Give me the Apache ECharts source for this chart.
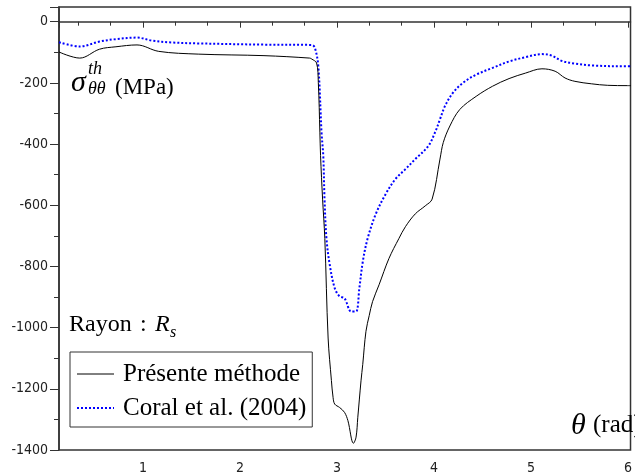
<!DOCTYPE html>
<html>
	<head>
		<meta charset="utf-8">
		<title></title>
		<style>
			html, body { margin: 0; padding: 0; background: #fff; }
			#main { width: 635px; height: 475px; }
		</style>
	</head>
	<body>
		<div id="main"></div>
		<script src="https://cdn.jsdelivr.net/npm/echarts@6/dist/echarts.min.js"></script>
		<script type="text/javascript">
			// theta (rad), sigma (MPa)
			var presenteMethode = [
				[0.135,-99],[0.349,-119],[0.552,-90],[0.722,-82],[0.939,-76],[1.163,-97],[1.570,-106],
				[2.248,-111],[2.719,-119],[2.740,-122],[2.790,-135],[2.808,-199],[2.824,-361],[2.831,-438],
				[2.852,-580],[2.875,-709],[2.909,-1034],[2.943,-1173],[2.960,-1228],[2.977,-1250],[3.027,-1261],
				[3.078,-1277],[3.113,-1304],[3.170,-1378],[3.197,-1358],[3.215,-1293],[3.248,-1174],[3.266,-1120],
				[3.299,-1012],[3.333,-960],[3.367,-915],[3.434,-860],[3.536,-774],[3.638,-709],[3.706,-670],
				[3.808,-628],[3.910,-602],[3.981,-580],[4.062,-449],[4.096,-395],[4.164,-341],[4.266,-287],
				[4.435,-244],[4.604,-211],[4.774,-186],[4.944,-168],[5.113,-154],[5.249,-162],[5.351,-184],
				[5.453,-195],[5.622,-203],[5.791,-208],[5.994,-209],[6.03,-209]
			];
			var coral2004 = [
				[0.135,-67],[0.349,-81],[0.552,-65],[0.722,-57],[0.939,-52],[1.095,-62],[1.298,-68],[1.570,-71],
				[2.248,-75],[2.740,-76],[2.773,-86],[2.808,-146],[2.841,-362],[2.859,-438],[2.872,-580],
				[2.892,-709],[2.926,-795],[2.977,-871],[3.027,-898],[3.078,-904],[3.147,-947],[3.197,-947],
				[3.231,-871],[3.266,-785],[3.316,-709],[3.401,-628],[3.503,-563],[3.604,-514],[3.706,-482],
				[3.808,-449],[3.940,-407],[4.011,-362],[4.062,-319],[4.113,-276],[4.197,-232],[4.299,-200],
				[4.435,-173],[4.604,-151],[4.774,-130],[4.944,-116],[5.113,-106],[5.215,-111],[5.316,-128],
				[5.453,-137],[5.622,-143],[5.994,-146],[6.03,-146]
			];
			var seriesNames = ['Présente méthode', 'Coral et al. (2004)'];

			var serif = "'Liberation Serif', 'DejaVu Serif', serif";
			var tickFont = "'DejaVu Sans Condensed', 'DejaVu Sans', sans-serif";

			var myChart = echarts.init(document.getElementById('main'), null, {renderer: 'canvas'});
			var option = {
				animation: false,
				backgroundColor: '#fff',
				grid: {
					left: 59, top: 7, right: -3, bottom: 22,
					show: true, borderColor: '#333', borderWidth: 1.5, backgroundColor: 'transparent'
				},
				xAxis: {
					type: 'value',
					min: 0.135,
					max: 6.026,
					splitNumber: 5,
					splitLine: {show: false},
					axisLine: {lineStyle: {color: '#333', width: 1.5}},
					axisTick: {length: 6, lineStyle: {color: '#333'}},
					minorTick: {show: true, splitNumber: 3, length: 4, lineStyle: {color: '#333'}},
					axisLabel: {
						margin: 11, color: '#222', fontSize: 14, fontFamily: tickFont,
						formatter: function (v) { return Math.abs(v - Math.round(v)) < 1e-6 ? String(Math.round(v)) : ''; }
					}
				},
				yAxis: {
					type: 'value',
					min: -1400,
					max: 48,
					interval: 200,
					splitLine: {show: false},
					axisLine: {show: true, lineStyle: {color: '#333', width: 1.5}},
					axisTick: {show: true, length: 9, lineStyle: {color: '#333'}},
					minorTick: {show: true, splitNumber: 2, length: 5, lineStyle: {color: '#333'}},
					axisLabel: {
						margin: 11, color: '#222', fontSize: 14, fontFamily: tickFont,
						formatter: function (v) { return v % 200 === 0 ? String(v) : ''; }
					}
				},
				legend: {
					left: 70, top: 352,
					orient: 'vertical',
					backgroundColor: '#fff',
					borderColor: '#333', borderWidth: 1,
					padding: [9, 6, 6, 6],
					itemWidth: 37, itemHeight: 14, itemGap: 8,
					itemStyle: {opacity: 0},
					textStyle: {fontFamily: serif, fontSize: 25, color: '#000', lineHeight: 26, padding: [0, 0, 0, 4]},
					data: [
						{name: seriesNames[0], lineStyle: {width: 1}},
						{name: seriesNames[1], lineStyle: {width: 2}}
					]
				},
				series: [{
					name: seriesNames[0],
					type: 'line',
					data: presenteMethode,
					symbol: 'none',
					smooth: 0.35,
					lineStyle: {color: '#000', width: 1},
					itemStyle: {color: '#000'},
					z: 3
				}, {
					name: seriesNames[1],
					type: 'line',
					data: coral2004,
					symbol: 'none',
					smooth: 0.35,
					lineStyle: {color: '#0000ff', width: 2, type: [2, 2]},
					itemStyle: {color: '#0000ff'},
					z: 2
				}],
				graphic: [
					{type: 'text', left: 71, top: 68, style: {text: 'σ', font: 'italic 30px ' + serif, fill: '#000'}},
					{type: 'text', left: 88, top: 60, style: {text: 'th', font: 'italic 18px ' + serif, fill: '#000'}},
					{type: 'text', left: 88, top: 80, style: {text: 'θθ', font: 'italic 18px ' + serif, fill: '#000'}},
					{type: 'text', left: 115, top: 76, style: {text: '(MPa)', font: '23px ' + serif, fill: '#000'}},
					{type: 'text', left: 69, top: 313, style: {text: 'Rayon', font: '24px ' + serif, fill: '#000'}},
					{type: 'text', left: 140, top: 313, style: {text: ':', font: '24px ' + serif, fill: '#000'}},
					{type: 'text', left: 155, top: 313, style: {text: 'R', font: 'italic 24px ' + serif, fill: '#000'}},
					{type: 'text', left: 170, top: 325, style: {text: 's', font: 'italic 16px ' + serif, fill: '#000'}},
					{type: 'text', left: 571, top: 411, style: {text: 'θ', font: 'italic 30px ' + serif, fill: '#000'}},
					{type: 'text', left: 593, top: 413, style: {text: '(rad)', font: '25px ' + serif, fill: '#000'}}
				]
			};
			myChart.setOption(option);
		</script>
	</body>
</html>
